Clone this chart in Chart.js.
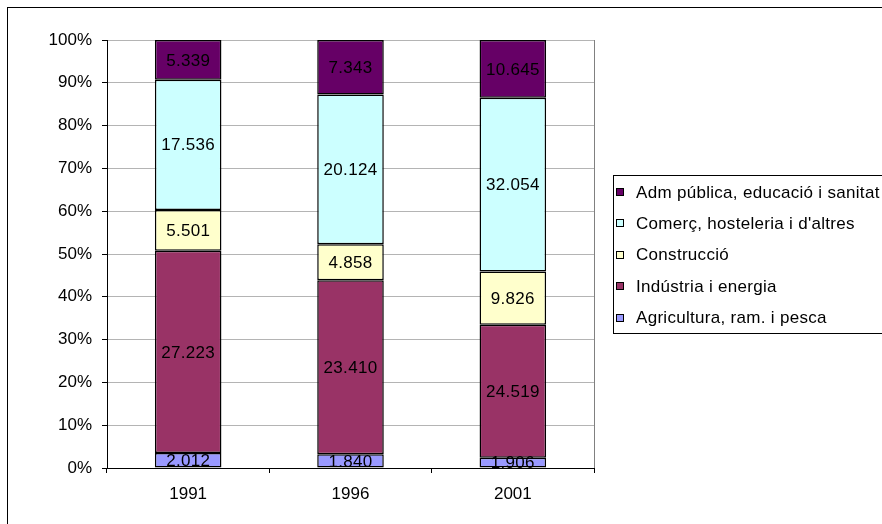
<!DOCTYPE html>
<html>
<head>
<meta charset="utf-8">
<script src="https://cdn.jsdelivr.net/npm/chart.js@4"></script>
<style>
  html, body { margin: 0; padding: 0; background: #fff; overflow: hidden; }
  #wrap { position: relative; width: 882px; height: 524px; }
</style>
</head>
<body>
<div id="wrap"><canvas id="ocupacioChart" width="882" height="524"></canvas></div>
<script>
// Dades: ocupats per sector (anys 1991, 1996, 2001)
const years = ['1991', '1996', '2001'];
const sectors = ['Agricultura, ram. i pesca', 'Indústria i energia', 'Construcció', "Comerç, hosteleria i d'altres", 'Adm pública, educació i sanitat'];
const agricultura = [2012, 1840, 1906];
const industria = [27223, 23410, 24519];
const construccio = [5501, 4858, 9826];
const comerc = [17536, 20124, 32054];
const admPublica = [5339, 7343, 10645];
const yTicks = [0, 10, 20, 30, 40, 50, 60, 70, 80, 90, 100];

const colors = ['#9999FF', '#993366', '#FFFFCC', '#CCFFFF', '#660066'];
const FONT = '"Liberation Sans", Arial, sans-serif';

const seriesList = [agricultura, industria, construccio, comerc, admPublica];
const totals = years.map((y, i) => seriesList.reduce((s, arr) => s + arr[i], 0));

function formatThousands(v) {
    const s = String(v);
    return s.replace(/\B(?=(\d{3})+(?!\d))/g, '.');
}

// Etiquetes de valor al centre de cada segment
const valueLabels = {
    id: 'valueLabels',
    afterDatasetsDraw(chart) {
        const ctx = chart.ctx;
        ctx.save();
        ctx.font = '17px ' + FONT;
        ctx.letterSpacing = '0.3px';
        ctx.fillStyle = '#000';
        ctx.textAlign = 'center';
        ctx.textBaseline = 'middle';
        chart.data.datasets.forEach((ds, di) => {
            const meta = chart.getDatasetMeta(di);
            meta.data.forEach((bar, i) => {
                const cy = (bar.y + bar.base) / 2;
                ctx.fillText(formatThousands(ds.raw[i]), bar.x, cy + 1);
            });
        });
        ctx.restore();
    }
};

// Marc exterior, vora de l'àrea de dibuix i llegenda
const frameAndLegend = {
    id: 'frameAndLegend',
    beforeDraw(chart) {
        const ctx = chart.ctx;
        ctx.save();
        ctx.fillStyle = '#fff';
        ctx.fillRect(0, 0, chart.width, chart.height);
        ctx.strokeStyle = '#000';
        ctx.lineWidth = 1;
        ctx.strokeRect(7.5, 7.5, 900, 540);
        ctx.restore();
    },
    afterDraw(chart) {
        const ctx = chart.ctx;
        const area = chart.chartArea;
        ctx.save();
        ctx.strokeStyle = '#808080';
        ctx.lineWidth = 1;
        ctx.beginPath();
        ctx.moveTo(Math.round(area.right) + 0.5, area.top);
        ctx.lineTo(Math.round(area.right) + 0.5, area.bottom);
        ctx.stroke();

        // llegenda
        const lx = 613, ly = 175, lh = 158;
        ctx.strokeStyle = '#000';
        ctx.strokeRect(lx + 0.5, ly + 0.5, 300, lh);
        ctx.font = '17px ' + FONT;
        ctx.letterSpacing = '0.3px';
        ctx.textBaseline = 'middle';
        ctx.textAlign = 'left';
        const items = chart.data.datasets.slice().reverse();
        items.forEach((ds, k) => {
            const cy = 192 + k * 31.4;
            ctx.fillStyle = ds.backgroundColor;
            ctx.fillRect(616, Math.round(cy - 4), 8, 8);
            ctx.strokeStyle = '#000';
            ctx.strokeRect(616.5, Math.round(cy - 4) + 0.5, 7, 7);
            ctx.fillStyle = '#000';
            ctx.fillText(ds.label, 636, cy + 1);
        });
        ctx.restore();
    }
};

const datasets = sectors.map((name, s) => ({
    label: name,
    raw: seriesList[s],
    data: seriesList[s].map((v, i) => v / totals[i] * 100),
    backgroundColor: colors[s],
    borderColor: '#000',
    borderWidth: 1.5,
    borderSkipped: false,
    barPercentage: 0.41,
    categoryPercentage: 1
}));

new Chart(document.getElementById('ocupacioChart'), {
    type: 'bar',
    data: { labels: years, datasets: datasets },
    options: {
        responsive: false,
        animation: false,
        layout: { padding: { left: 0, top: 40, right: 288, bottom: 0 } },
        plugins: {
            legend: { display: false },
            tooltip: { enabled: false }
        },
        scales: {
            x: {
                stacked: true,
                grid: { offset: true, drawOnChartArea: false, drawTicks: true, tickLength: 5, tickColor: '#000' },
                border: { color: '#000', width: 1 },
                ticks: { color: '#000', font: { family: FONT, size: 17 }, padding: 11 },
                afterFit(scale) { scale.height = 56; }
            },
            y: {
                stacked: true,
                min: 0,
                max: 100,
                afterBuildTicks(scale) { scale.ticks = yTicks.map(v => ({ value: v })); },
                grid: { color: '#b4b4b4', tickLength: 5, tickColor: '#000' },
                border: { color: '#000', width: 1 },
                ticks: {
                    color: '#000',
                    font: { family: FONT, size: 17 },
                    padding: 10,
                    callback: v => v + '%'
                },
                afterFit(scale) { scale.width = 107; }
            }
        }
    },
    plugins: [frameAndLegend, valueLabels]
});
</script>
</body>
</html>
